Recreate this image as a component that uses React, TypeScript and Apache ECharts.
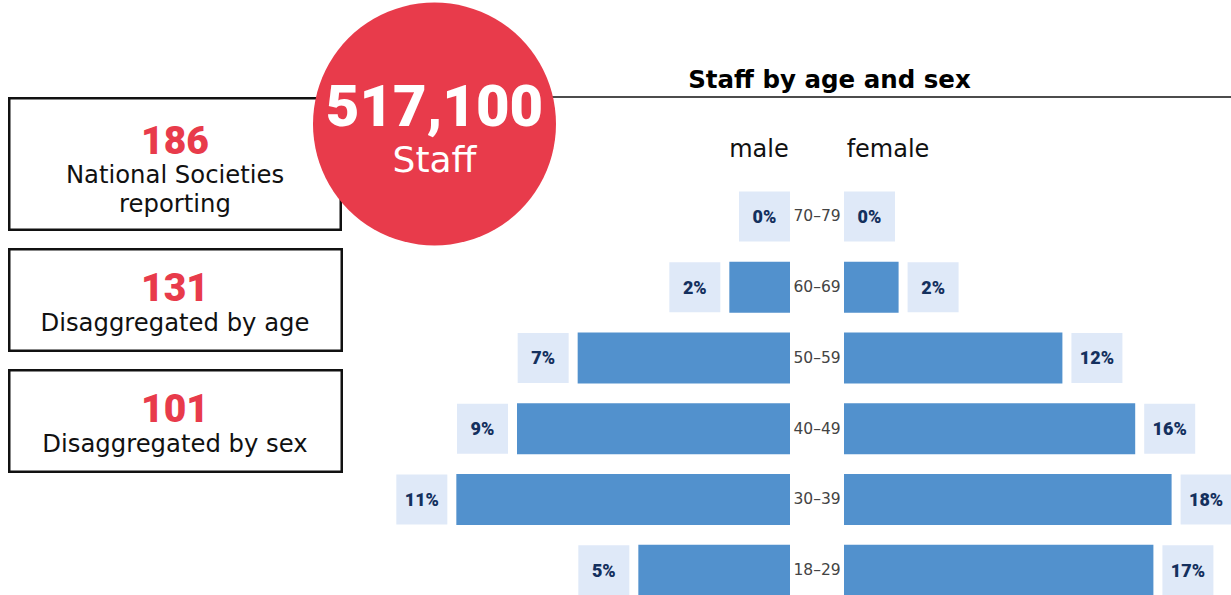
import React, { useEffect, useRef } from "react";
import * as echarts from "echarts";

// ---- data ----
const ageGroups = ["70–79", "60–69", "50–59", "40–49", "30–39", "18–29"];
const maleBar = [0, 2, 7, 9, 11, 5];
const maleLabels = ["0%", "2%", "7%", "9%", "11%", "5%"];
const femaleBar = [0, 3, 12, 16, 18, 17];
const femaleLabels = ["0%", "2%", "12%", "16%", "18%", "17%"];

const totalStaff = "517,100";
const totalCaption = "Staff";
const statNumbers = ["186", "131", "101"];
const statCaptions = [
  ["National Societies", "reporting"],
  ["Disaggregated by age"],
  ["Disaggregated by sex"],
];
const chartTitle = "Staff by age and sex";
const sexHeaders = ["male", "female"];

// ---- styles ----
const FONT = "DejaVu Sans";
const NUMFONT = "Roboto";
const RED = "#E83B4B";
const BAR = "#5291CD";
const BOX = "#DFE9F8";
const NAVY = "#14305E";

function labelFor(text: string, value: number, side: "left" | "right") {
  return {
    show: true,
    position: side,
    distance: value === 0 ? 0 : 9,
    formatter: `{b|${text}}`,
    rich: {
      b: {
        width: 51,
        height: 50,
        lineHeight: 50,
        align: "center",
        backgroundColor: BOX,
        color: NAVY,
        fontWeight: 900,
        fontSize: 18,
        fontFamily: NUMFONT,
      },
    },
  };
}

export default function App() {
  const ref = useRef<HTMLDivElement>(null);
  useEffect(() => {
    if (!ref.current) return;
    const chart = echarts.init(ref.current, null, { renderer: "svg" });

    const gridTop = 181;
    const gridHeight = 424.5;

    const boxes = [
      { x: 9.25, y: 98.25, w: 331.5, h: 131.5 },
      { x: 9.25, y: 249.25, w: 332.5, h: 101.5 },
      { x: 9.25, y: 370.25, w: 332.5, h: 101.5 },
    ];
    const numY = [141, 288, 409];
    const capY = [[174, 203], [322], [443]];

    const graphic: any[] = [];
    graphic.push({
      type: "line",
      z: 1,
      shape: { x1: 480, y1: 97, x2: 1231, y2: 97 },
      style: { stroke: "#111", lineWidth: 1.5 },
    });
    boxes.forEach((b, i) => {
      graphic.push({
        type: "rect",
        z: 1,
        shape: { x: b.x, y: b.y, width: b.w, height: b.h },
        style: { fill: "#fff", stroke: "#111", lineWidth: 2.5 },
      });
      graphic.push({
        type: "text",
        z: 2,
        style: {
          text: statNumbers[i],
          x: 175,
          y: numY[i],
          align: "center",
          verticalAlign: "middle",
          fill: RED,
          fontSize: 39,
          lineHeight: 30,
          fontWeight: 900,
          fontFamily: NUMFONT,
        },
      });
      statCaptions[i].forEach((c, j) => {
        graphic.push({
          type: "text",
          z: 2,
          style: {
            text: c,
            x: 175,
            y: capY[i][j],
            align: "center",
            verticalAlign: "middle",
            fill: "#111",
            fontSize: 24.3,
            lineHeight: 26,
            fontFamily: FONT,
          },
        });
      });
    });
    graphic.push({
      type: "circle",
      z: 5,
      shape: { cx: 434.5, cy: 124, r: 121.5 },
      style: { fill: RED },
    });
    graphic.push({
      type: "text",
      z: 6,
      style: {
        text: totalStaff,
        x: 434.5,
        y: 106,
        align: "center",
        verticalAlign: "middle",
        fill: "#fff",
        fontSize: 58,
        lineHeight: 44,
        fontWeight: 900,
        fontFamily: NUMFONT,
      },
    });
    graphic.push({
      type: "text",
      z: 6,
      style: {
        text: totalCaption,
        x: 434.5,
        y: 159.5,
        align: "center",
        verticalAlign: "middle",
        fill: "#fff",
        fontSize: 36,
        lineHeight: 30,
        fontFamily: FONT,
      },
    });
    graphic.push({
      type: "text",
      z: 2,
      style: {
        text: chartTitle,
        x: 829.5,
        y: 79,
        align: "center",
        verticalAlign: "middle",
        fill: "#000",
        fontSize: 24.5,
        fontWeight: "bold",
        fontFamily: FONT,
      },
    });
    [759, 888].forEach((x, i) => {
      graphic.push({
        type: "text",
        z: 2,
        style: {
          text: sexHeaders[i],
          x,
          y: 149,
          align: "center",
          verticalAlign: "middle",
          fill: "#111",
          fontSize: 24,
          fontFamily: FONT,
        },
      });
    });

    chart.setOption({
      animation: false,
      graphic,
      grid: [
        { left: 426, width: 364, top: gridTop, height: gridHeight },
        { left: 844, width: 364, top: gridTop, height: gridHeight },
      ],
      xAxis: [
        { type: "value", gridIndex: 0, min: 0, max: 12, inverse: true, show: false },
        { type: "value", gridIndex: 1, min: 0, max: 20, show: false },
      ],
      yAxis: [
        {
          type: "category",
          gridIndex: 0,
          data: ageGroups,
          inverse: true,
          show: false,
        },
        {
          type: "category",
          gridIndex: 1,
          data: ageGroups,
          inverse: true,
          axisLine: { show: false },
          axisTick: { show: false },
          axisLabel: {
            align: "center",
            margin: 27,
            color: "#444",
            fontSize: 15.5,
            fontFamily: FONT,
          },
        },
      ],
      series: [
        {
          type: "bar",
          xAxisIndex: 0,
          yAxisIndex: 0,
          barWidth: 51,
          itemStyle: { color: BAR },
          data: maleBar.map((v, i) => ({
            value: v,
            label: labelFor(maleLabels[i], v, "left"),
          })),
        },
        {
          type: "bar",
          xAxisIndex: 1,
          yAxisIndex: 1,
          barWidth: 51,
          itemStyle: { color: BAR },
          data: femaleBar.map((v, i) => ({
            value: v,
            label: labelFor(femaleLabels[i], v, "right"),
          })),
        },
      ],
    });
    return () => chart.dispose();
  }, []);
  return (
    <div
      style={{
        position: "fixed",
        left: 0,
        top: 0,
        width: 1231,
        height: 595,
        overflow: "hidden",
        background: "#fff",
      }}
    >
      <div ref={ref} style={{ width: 1231, height: 620 }} />
    </div>
  );
}
